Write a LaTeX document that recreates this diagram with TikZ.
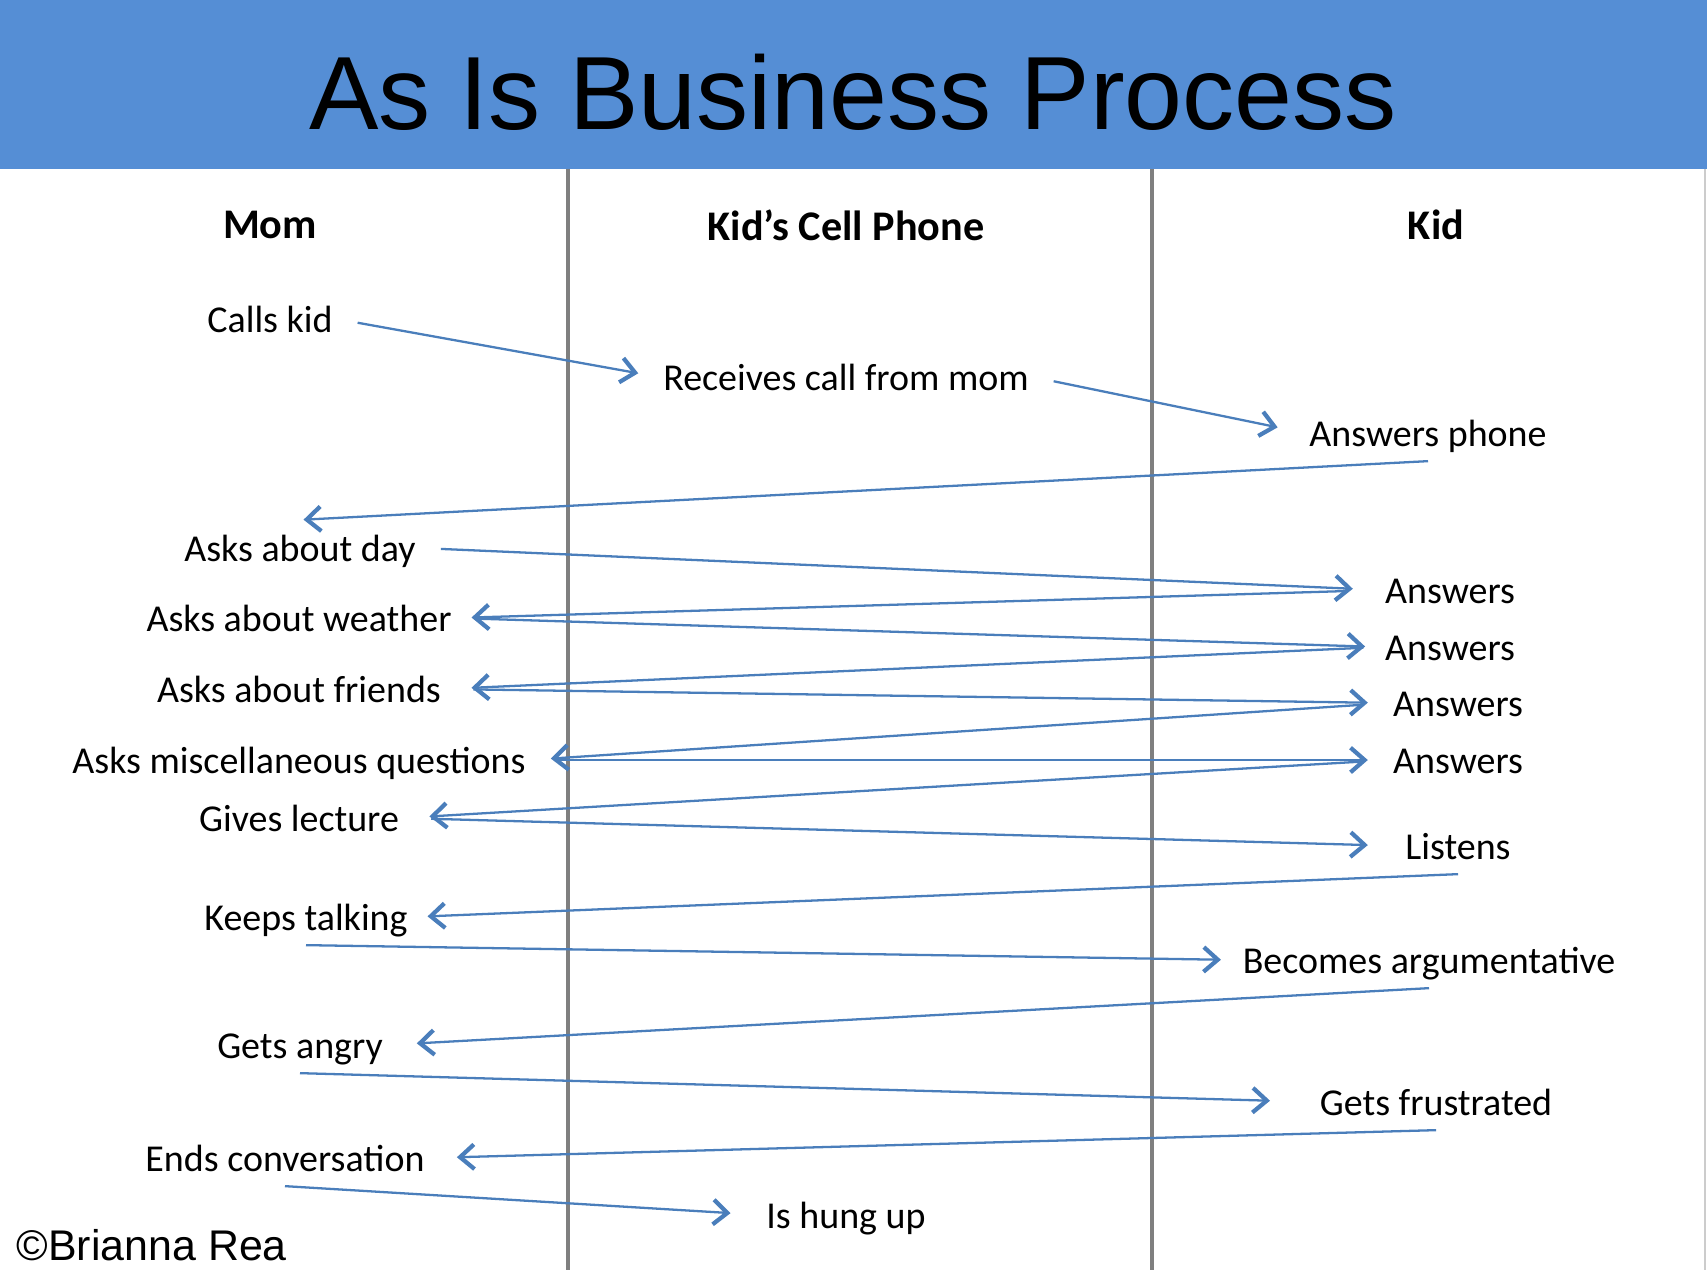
\documentclass[tikz,border=0pt]{standalone}
\usepackage{fontspec}
\setmainfont{Carlito}
\newfontfamily\arialfont{Liberation Sans}
\usepackage{xcolor}
\usetikzlibrary{arrows.meta}
\definecolor{barblue}{HTML}{558ED5}
\definecolor{flowblue}{HTML}{4A7EBB}
\definecolor{lanegray}{HTML}{7F7F7F}
\tikzstyle{activity}=[font=\fontsize{10.8}{12}\selectfont, text height=9.6pt, text depth=2pt,
        inner sep=1pt, outer ysep=1.2pt]
\tikzstyle{lanehead}=[font=\fontsize{12}{14}\selectfont\bfseries]
\tikzstyle{flow}=[-{Straight Barb[length=4pt,width=7pt,line width=1.2pt]}, draw=flowblue,
        line width=0.65pt, shorten <=6pt, shorten >=6pt]
\tikzstyle{reply}=[flow, shorten <=0pt]
\tikzstyle{lane}=[draw=lanegray, line width=0.9pt]

\begin{document}
\begin{tikzpicture}[x=0.01cm, y=-0.01cm]
    \useasboundingbox (0,0) rectangle (1707,1270);
    \fill[barblue] (0,0) rectangle (1707,169);
    \node (title) at (853,92) [font=\arialfont\fontsize{29.6}{32}\selectfont] {As Is Business Process};
    \draw[lane] (568,169) -- (568,1270);
    \draw[lane] (1152,169) -- (1152,1270);
    \draw[gray!40, line width=0.5pt] (1705,169) -- (1705,1270);
    % lane headings
    \node (mom) at (270,225) [lanehead] {Mom};
    \node (phone) at (846,225) [lanehead] {Kid’s Cell Phone};
    \node (kid) at (1436,225) [lanehead] {Kid};
    % activities
    \node (calls) at (270,319) [activity] {Calls kid};
    \node (receives) at (846,377) [activity] {Receives call from mom};
    \node (ansphone) at (1428,433) [activity] {Answers phone};
    \node (day) at (300,548) [activity] {Asks about day};
    \node (ansday) at (1450,590) [activity] {Answers};
    \node (weather) at (299,618) [activity] {Asks about weather};
    \node (answeather) at (1450,647) [activity] {Answers};
    \node (friends) at (299,689) [activity] {Asks about friends};
    \node (ansfriends) at (1458,703) [activity] {Answers};
    \node (misc) at (299,760) [activity] {Asks miscellaneous questions};
    \node (ansmisc) at (1458,760) [activity] {Answers};
    \node (lecture) at (299,818) [activity] {Gives lecture};
    \node (listens) at (1458,846) [activity] {Listens};
    \node (talking) at (306,917) [activity] {Keeps talking};
    \node (argues) at (1429,960) [activity] {Becomes argumentative};
    \node (angry) at (300,1045) [activity] {Gets angry};
    \node (frustrated) at (1436,1102) [activity] {Gets frustrated};
    \node (ends) at (285,1158) [activity] {Ends conversation};
    \node (hungup) at (846,1215) [activity] {Is hung up};
    \node (credit) at (16,1245) [anchor=west, inner sep=0pt, font=\arialfont\fontsize{12.2}{14}\selectfont] {©Brianna Rea};
    % messages
    \draw[flow] (calls.east) -- (receives.west);
    \draw[flow, shorten >=8pt] (receives.east) -- (ansphone.west);
    \draw[reply, shorten >=1pt] (ansphone.south) -- (day.north);
    \draw[flow, shorten >=8pt] (day.east) -- (ansday.west);
    \draw[flow, shorten <=10pt, shorten >=4.5pt] (ansday.west) -- (weather.east);
    \draw[flow, shorten >=4.5pt] (weather.east) -- (answeather.west);
    \draw[flow, shorten <=5pt, shorten >=7.5pt] (answeather.west) -- (friends.east);
    \draw[flow, shorten <=8pt] (friends.east) -- (ansfriends.west);
    \draw[flow, shorten <=8pt] (ansfriends.west) -- (misc.east);
    \draw[flow, shorten <=8pt] (misc.east) -- (ansmisc.west);
    \draw[flow, shorten <=8pt, shorten >=7.5pt] (ansmisc.west) -- (lecture.east);
    \draw[flow, shorten <=8pt, shorten >=9.5pt] (lecture.east) -- (listens.west);
    \draw[reply, shorten >=4.5pt] (listens.south) -- (talking.east);
    \draw[reply, shorten >=5pt] (talking.south) -- (argues.west);
    \draw[reply, shorten >=8.5pt] (argues.south) -- (angry.east);
    \draw[reply, shorten >=13pt] (angry.south) -- (frustrated.west);
    \draw[reply, shorten >=8pt] (frustrated.south) -- (ends.east);
    \draw[reply, shorten >=9pt] (ends.south) -- (hungup.west);
\end{tikzpicture}
\end{document}
